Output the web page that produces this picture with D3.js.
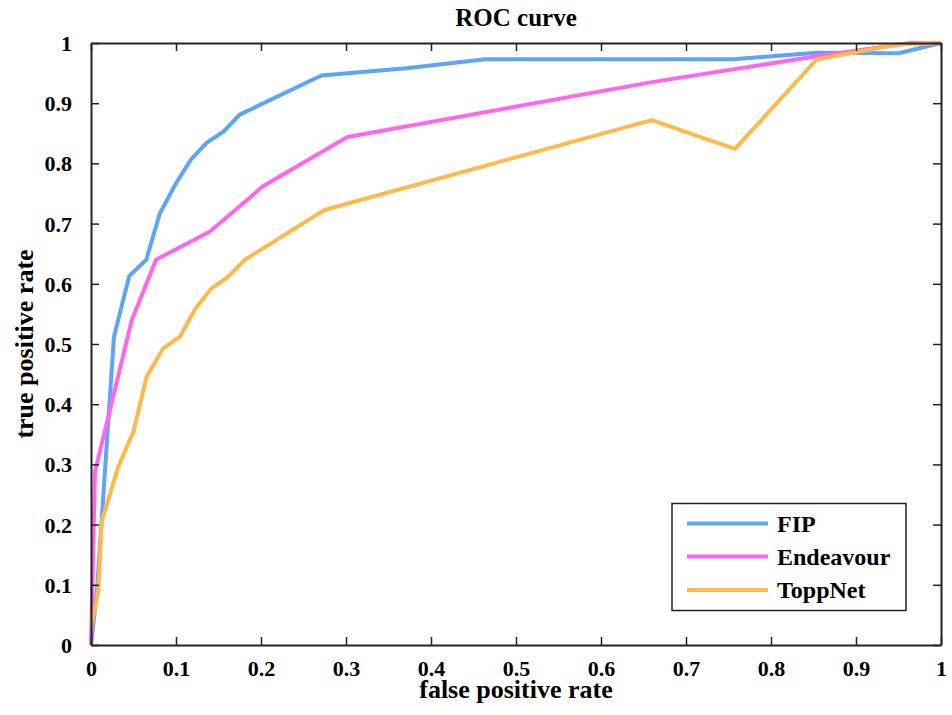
<!DOCTYPE html>
<html>
<head>
<meta charset="utf-8">
<script src="https://cdn.jsdelivr.net/npm/d3@7"></script>
<style>
  html, body { margin: 0; padding: 0; background: #fff; }
  svg { display: block; }
  text { font-family: "Liberation Serif", "Times New Roman", serif; font-weight: bold; fill: #000; }
</style>
</head>
<body>
<svg id="chart" width="952" height="715"></svg>
<script>
// ---- data ----
const seriesNames = ["FIP", "Endeavour", "ToppNet"];
const seriesColors = ["#5ea4f8", "#ff66ee", "#ffb84a"];
const fipFpr = [0, 0.007, 0.027, 0.045, 0.065, 0.081, 0.100, 0.118, 0.136, 0.156, 0.175, 0.271, 0.371, 0.464, 0.756, 0.854, 0.950, 1];
const fipTpr = [0, 0.090, 0.512, 0.613, 0.640, 0.717, 0.767, 0.807, 0.834, 0.853, 0.881, 0.946, 0.958, 0.973, 0.973, 0.984, 0.983, 1];
const endFpr = [0, 0.0047, 0.048, 0.0765, 0.140, 0.2024, 0.3016, 0.660, 0.854, 0.9635, 1];
const endTpr = [0, 0.288, 0.540, 0.640, 0.687, 0.762, 0.844, 0.935, 0.978, 1, 1];
const topFpr = [0, 0.0086, 0.0126, 0.032, 0.0498, 0.0655, 0.085, 0.1047, 0.1224, 0.142, 0.1615, 0.181, 0.2745, 0.6596, 0.7576, 0.8537, 0.950, 1];
const topTpr = [0.03, 0.089, 0.205, 0.296, 0.354, 0.446, 0.493, 0.512, 0.558, 0.5925, 0.612, 0.640, 0.7226, 0.872, 0.824, 0.9726, 0.998, 1];
const xTicks = [0, 0.1, 0.2, 0.3, 0.4, 0.5, 0.6, 0.7, 0.8, 0.9, 1];
const yTicks = [0, 0.1, 0.2, 0.3, 0.4, 0.5, 0.6, 0.7, 0.8, 0.9, 1];
const tickLabels = ["0", "0.1", "0.2", "0.3", "0.4", "0.5", "0.6", "0.7", "0.8", "0.9", "1"];
const titleText = "ROC curve";
const xLabel = "false positive rate";
const yLabel = "true positive rate";

// ---- layout ----
const L = 91, R = 941, T = 43, B = 645;
const svg = d3.select("#chart");
const x = d3.scaleLinear().domain([0, 1]).range([L, R]);
const y = d3.scaleLinear().domain([0, 1]).range([B, T]);

const series = [
  fipFpr.map((v, i) => [v, fipTpr[i]]),
  endFpr.map((v, i) => [v, endTpr[i]]),
  topFpr.map((v, i) => [v, topTpr[i]])
];

const line = d3.line().x(d => x(d[0])).y(d => y(d[1]));
const plot = svg.append("g");
series.forEach((s, i) => {
  plot.append("path").datum(s)
    .attr("d", line)
    .attr("fill", "none")
    .attr("stroke", seriesColors[i])
    .attr("stroke-width", 4)
    .attr("stroke-linejoin", "round");
});

// ---- axes (box with inward ticks) ----
const tickLen = 8;
const axisColor = "#222";
const fmt = (d) => tickLabels[xTicks.indexOf(d)];

const axB = svg.append("g").attr("transform", `translate(0,${B})`)
  .call(d3.axisBottom(x).tickValues(xTicks).tickFormat(fmt).tickSizeInner(-tickLen).tickSizeOuter(0).tickPadding(20));
const axT = svg.append("g").attr("transform", `translate(0,${T})`)
  .call(d3.axisTop(x).tickValues(xTicks).tickFormat("").tickSizeInner(-tickLen).tickSizeOuter(0));
const axL = svg.append("g").attr("transform", `translate(${L},0)`)
  .call(d3.axisLeft(y).tickValues(yTicks).tickFormat(d => tickLabels[yTicks.indexOf(d)]).tickSizeInner(-tickLen).tickSizeOuter(0).tickPadding(19));
const axR = svg.append("g").attr("transform", `translate(${R},0)`)
  .call(d3.axisRight(y).tickValues(yTicks).tickFormat("").tickSizeInner(-tickLen).tickSizeOuter(0));

[axB, axT, axL, axR].forEach(g => {
  g.select(".domain").attr("stroke", axisColor).attr("stroke-width", 2);
  g.selectAll(".tick line").attr("stroke", axisColor).attr("stroke-width", 1.5);
  g.selectAll(".tick text").style("font-family", '"Liberation Serif", serif')
    .style("font-weight", "bold").style("font-size", "22px").attr("fill", "#000");
});
axB.selectAll(".tick text").attr("dy", null).attr("y", 31);
axL.selectAll(".tick text").attr("dy", "0.34em");

// ---- titles ----
svg.append("text").attr("x", (L + R) / 2).attr("y", 26)
  .attr("text-anchor", "middle").style("font-size", "25px").text(titleText);
svg.append("text").attr("x", (L + R) / 2).attr("y", 698)
  .attr("text-anchor", "middle").style("font-size", "26px").text(xLabel);
svg.append("text").attr("transform", `translate(33,${(T + B) / 2}) rotate(-90)`)
  .attr("text-anchor", "middle").style("font-size", "26px").text(yLabel);

// ---- legend ----
const lg = svg.append("g");
lg.append("rect").attr("x", 672).attr("y", 503.5).attr("width", 234).attr("height", 107)
  .attr("fill", "#fff").attr("stroke", "#222").attr("stroke-width", 1.5);
const rowY = [523.5, 556.5, 590];
seriesNames.forEach((n, i) => {
  lg.append("line").attr("x1", 687).attr("x2", 768).attr("y1", rowY[i]).attr("y2", rowY[i])
    .attr("stroke", seriesColors[i]).attr("stroke-width", 4);
  lg.append("text").attr("x", 777).attr("y", rowY[i] + 8).style("font-size", "24px").text(n);
});
</script>
</body>
</html>
